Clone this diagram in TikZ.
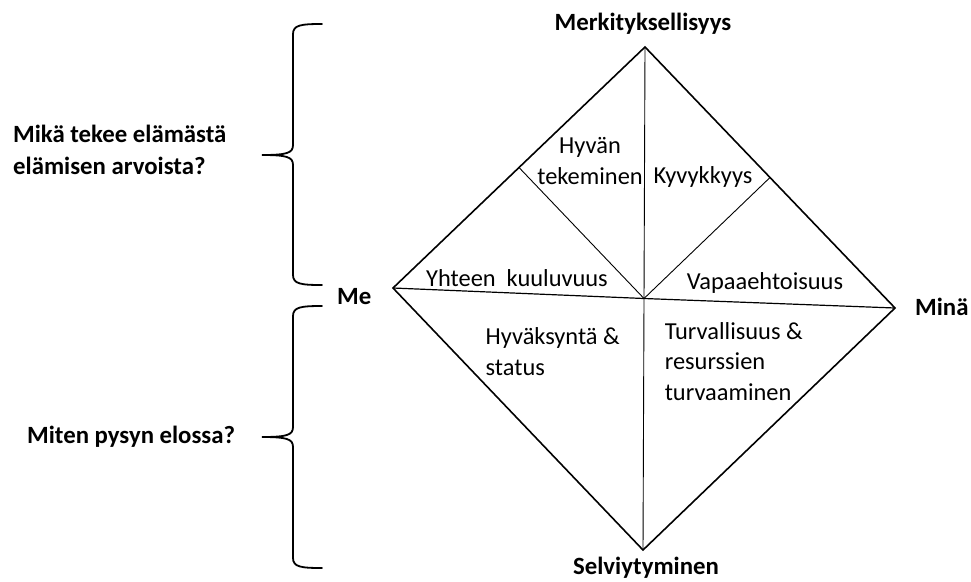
\documentclass[tikz,border=0pt]{standalone}
\usepackage{fontspec}
\setmainfont{Carlito}
\usetikzlibrary{calc}
\newcommand\leftbrace[3]{% top, mid, bottom (pixel y)
  \draw[bracestyle] (322,#1) .. controls (301,#1) and (293,#1+1) .. (293,#1+10)
    -- (293,#2-10) .. controls (293,#2-2) and (287,#2) .. (262,#2)
    .. controls (287,#2) and (293,#2+2) .. (293,#2+10)
    -- (293,#3-10) .. controls (293,#3-1) and (301,#3) .. (322,#3);}
\tikzset{
  outer/.style={line width=1.6pt, line join=miter},
  midline/.style={line width=1.2pt},
  thinline/.style={line width=0.9pt},
  bracestyle/.style={line width=1.8pt, line cap=round},
  lbl/.style={inner sep=0pt, font=\fontsize{24.4}{30.5}\selectfont},
  blbl/.style={inner sep=0pt, font=\fontsize{24.8}{32}\selectfont\bfseries},
}
\begin{document}
\begin{tikzpicture}[x=1pt,y=-1pt]
\useasboundingbox (0,0) rectangle (971,581);
% vertices
\coordinate (T) at (645,47);
\coordinate (L) at (393,288);
\coordinate (R) at (895,308);
\coordinate (B) at (643,550);
\coordinate (C) at (644,298.5);
\coordinate (TLm) at ($(T)!0.5!(L)$);
\coordinate (TRm) at ($(T)!0.5!(R)$);
% inner lines
\draw[thinline] (TLm) -- (C);
\draw[thinline] (TRm) -- (C);
\draw[thinline] (T) -- (C) -- (B);
\draw[midline] (L) -- (C) -- (R);
% outer diamond
\draw[outer] (T) -- (R) -- (B) -- (L) -- cycle;
% braces
\leftbrace{24}{155}{285}
\leftbrace{306}{437}{568}
% labels (multi-line nodes: base = last line)
\node[blbl, anchor=base] (top) at (643,30) {Merkityksellisyys};
\node[blbl, anchor=base] (bot) at (646,574) {Selviytyminen};
\node[blbl, anchor=base west] (me) at (337,304) {Me};
\node[blbl, anchor=base west] (mina) at (915,315) {Minä};
\node[blbl, anchor=base west, align=left] (q1) at (13,174) {Mikä tekee elämästä\\elämisen arvoista?};
\node[blbl, anchor=base west] (q2) at (27,443) {Miten pysyn elossa?};
\node[lbl, anchor=base, align=center] (hyva) at (590,184) {Hyvän\\tekeminen};
\node[lbl, anchor=base] (kyv) at (703,183) {Kyvykkyys};
\node[lbl, anchor=base] (yht) at (517,286) {Yhteen\ \ kuuluvuus};
\node[lbl, anchor=base] (vap) at (765,289) {Vapaaehtoisuus};
\node[lbl, anchor=base west, align=left] (hyv) at (485.5,375) {Hyväksyntä \&\\status};
\node[lbl, anchor=base west, align=left] (turv) at (664.6,400) {Turvallisuus \&\\resurssien\\turvaaminen};
\end{tikzpicture}
\end{document}
